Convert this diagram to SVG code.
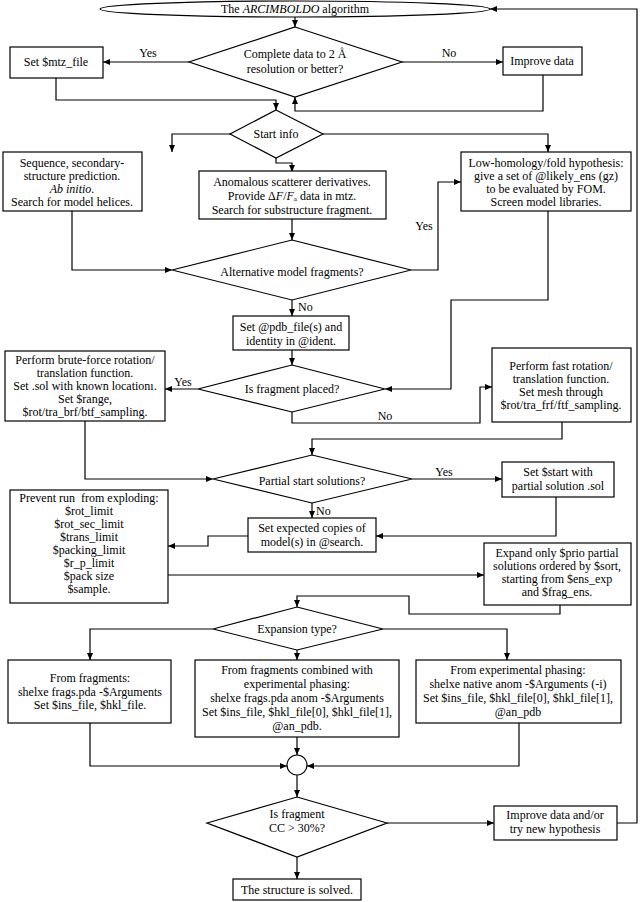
<svg xmlns="http://www.w3.org/2000/svg" width="640" height="902" viewBox="0 0 640 902">
<style>
.n{fill:#fff;stroke:#000;stroke-width:1.2}
.c{fill:none;stroke:#000;stroke-width:1.2}
text{font-family:"Liberation Serif","Times New Roman",serif;font-size:12px;fill:#000;text-anchor:middle}
.l{text-anchor:start}
</style>
<defs>
<marker id="a" markerUnits="userSpaceOnUse" markerWidth="7" markerHeight="6" refX="7" refY="3" orient="auto">
<path d="M0,0 L7,3 L0,6 z" fill="#000"/>
</marker>
</defs>
<rect width="640" height="902" fill="#fff"/>
<g id="connectors" class="c" marker-end="url(#a)">
<polyline points="295,17 295,27"/>
<polyline points="189,62 103,62"/>
<polyline points="402,62 503,62"/>
<polyline points="56,78 56,100 276,100 276,110"/>
<polyline points="543,75 543,111 295,111 295,97"/>
<polyline points="230,134 172,134 172,152"/>
<polyline points="323,134 548,134 548,152"/>
<polyline points="276,158 276,163 292,163 292,172"/>
<polyline points="72,211 72,270 172,270"/>
<polyline points="292,219 292,240"/>
<polyline points="411,270 438,270 438,182 461,182"/>
<polyline points="548,211 548,300 451,300 451,389 385,389"/>
<polyline points="292,300 292,316"/>
<polyline points="292,350 292,365"/>
<polyline points="198,389 165,389"/>
<polyline points="292,412 292,423 480,423 480,387 492,387"/>
<polyline points="562,422 562,439 312,439 312,455"/>
<polyline points="85,421 85,479 213,479"/>
<polyline points="412,479 502,479"/>
<polyline points="312,503 312,518"/>
<polyline points="556,497 556,536 376,536"/>
<polyline points="248,536 208,536 208,546 168,546"/>
<polyline points="168,575 484,575"/>
<polyline points="560,605 560,614 409,614 409,596 297,596 297,607"/>
<polyline points="213,629 90,629 90,660"/>
<polyline points="383,629 507,629 507,660"/>
<polyline points="297,650 297,660"/>
<polyline points="297,737 297,755"/>
<polyline points="90,723 90,766 287,766"/>
<polyline points="519,723 519,766 307,766"/>
<polyline points="297,775 297,797"/>
<polyline points="387,823 494,823"/>
<polyline points="617,823 637,823 637,9 490,9"/>
<polyline points="297,857 297,879"/>
</g>
<g id="labels">
<text x="148" y="57">Yes</text>
<text x="449" y="57">No</text>
<text x="424" y="230">Yes</text>
<text x="298" y="311" class="l">No</text>
<text x="183" y="386">Yes</text>
<text x="385" y="420">No</text>
<text x="444" y="476">Yes</text>
<text x="316" y="515" class="l">No</text>
</g>
<g id="start"><ellipse class="n" cx="295" cy="9" rx="195" ry="8"/><text x="295" y="13">The <tspan font-style="italic">ARCIMBOLDO</tspan> algorithm</text></g>
<g id="d-complete"><polygon class="n" points="295,27 402,62 295,97 189,62"/><text x="295" y="58">Complete data to 2 Å</text><text x="295" y="73">resolution or better?</text></g>
<g id="mtz"><rect class="n" x="10" y="47" width="93" height="31"/><text x="56" y="66">Set $mtz_file</text></g>
<g id="improve"><rect class="n" x="503" y="47" width="79" height="28"/><text x="542" y="65">Improve data</text></g>
<g id="d-startinfo"><polygon class="n" points="276,110 323,134 276,158 230,134"/><text x="276" y="138">Start info</text></g>
<g id="sequence"><rect class="n" x="3" y="152" width="139" height="59"/><text x="72" y="167">Sequence, secondary-</text><text x="72" y="180">structure prediction.</text><text x="72" y="193"><tspan font-style="italic">Ab initio</tspan>.</text><text x="72" y="206">Search for model helices.</text></g>
<g id="anomalous"><rect class="n" x="199" y="171" width="187" height="48"/><text x="292" y="186">Anomalous scatterer derivatives.</text><text x="292" y="199.5">Provide Δ<tspan font-style="italic">F</tspan>/<tspan font-style="italic">F</tspan><tspan font-size="7" dy="1.5">a</tspan><tspan dy="-1.5"> data in mtz.</tspan></text><text x="292" y="213.5">Search for substructure fragment.</text></g>
<g id="lowhomology"><rect class="n" x="461" y="152" width="170" height="59"/><text x="546" y="167">Low-homology/fold hypothesis:</text><text x="546" y="180">give a set of @likely_ens (gz)</text><text x="546" y="193">to be evaluated by FOM.</text><text x="546" y="206">Screen model libraries.</text></g>
<g id="d-alternative"><polygon class="n" points="292,240 411,270 292,300 172,270"/><text x="292" y="276">Alternative model fragments?</text></g>
<g id="pdbfile"><rect class="n" x="233" y="316" width="116" height="34"/><text x="291" y="331">Set @pdb_file(s) and</text><text x="291" y="345">identity in @ident.</text></g>
<g id="d-placed"><polygon class="n" points="292,365 385,389 292,412 198,389"/><text x="292" y="393">Is fragment placed?</text></g>
<g id="brute"><rect class="n" x="5" y="351" width="160" height="70"/><text x="85" y="364">Perform brute-force rotation/</text><text x="85" y="377">translation function.</text><text x="85" y="390">Set .sol with known locationı.</text><text x="85" y="403">Set $range,</text><text x="85" y="416">$rot/tra_brf/btf_sampling.</text></g>
<g id="fast"><rect class="n" x="492" y="348" width="139" height="74"/><text x="561" y="370">Perform fast rotation/</text><text x="561" y="383">translation function.</text><text x="561" y="396">Set mesh through</text><text x="561" y="409">$rot/tra_frf/ftf_sampling.</text></g>
<g id="d-partial"><polygon class="n" points="312,455 412,479 312,503 213,479"/><text x="312" y="485">Partial start solutions?</text></g>
<g id="setstart"><rect class="n" x="502" y="462" width="112" height="35"/><text x="558" y="476">Set $start with</text><text x="558" y="490">partial solution .sol</text></g>
<g id="expected"><rect class="n" x="248" y="518" width="128" height="34"/><text x="312" y="532">Set expected copies of</text><text x="312" y="546">model(s) in @search.</text></g>
<g id="prevent"><rect class="n" x="10" y="490" width="158" height="113"/><text x="89" y="502" xml:space="preserve">Prevent run  from exploding:</text><text x="89" y="515">$rot_limit</text><text x="89" y="528">$rot_sec_limit</text><text x="89" y="541">$trans_limit</text><text x="89" y="554">$packing_limit</text><text x="89" y="567">$r_p_limit</text><text x="89" y="580">$pack size</text><text x="89" y="593">$sample.</text></g>
<g id="expand"><rect class="n" x="484" y="543" width="147" height="62"/><text x="557" y="557">Expand only $prio partial</text><text x="557" y="570">solutions ordered by $sort,</text><text x="557" y="583">starting from $ens_exp</text><text x="557" y="596">and $frag_ens.</text></g>
<g id="d-expansion"><polygon class="n" points="297,607 383,629 297,650 213,629"/><text x="297" y="633">Expansion type?</text></g>
<g id="fromfrag"><rect class="n" x="8" y="660" width="163" height="63"/><text x="90" y="682">From fragments:</text><text x="90" y="696">shelxe frags.pda -$Arguments</text><text x="90" y="709">Set $ins_file, $hkl_file.</text></g>
<g id="combined"><rect class="n" x="195" y="660" width="204" height="77"/><text x="297" y="674">From fragments combined with</text><text x="297" y="688">experimental phasing:</text><text x="297" y="702">shelxe frags.pda anom -$Arguments</text><text x="297" y="716">Set $ins_file, $hkl_file[0], $hkl_file[1],</text><text x="297" y="730">@an_pdb.</text></g>
<g id="experimental"><rect class="n" x="416" y="660" width="205" height="63"/><text x="518" y="674">From experimental phasing:</text><text x="518" y="688">shelxe native anom -$Arguments (-i)</text><text x="518" y="702">Set $ins_file, $hkl_file[0], $hkl_file[1],</text><text x="518" y="716">@an_pdb</text></g>
<g id="merge"><circle class="n" cx="297" cy="765" r="10"/></g>
<g id="d-cc"><polygon class="n" points="297,797 387,823 297,857 207,823"/><text x="297" y="818">Is fragment</text><text x="297" y="832">CC &gt; 30%?</text></g>
<g id="improve2"><rect class="n" x="494" y="806" width="123" height="34"/><text x="555" y="819">Improve data and/or</text><text x="555" y="833">try new hypothesis</text></g>
<g id="solved"><rect class="n" x="233" y="879" width="128" height="21"/><text x="297" y="894">The structure is solved.</text></g>
</svg>
